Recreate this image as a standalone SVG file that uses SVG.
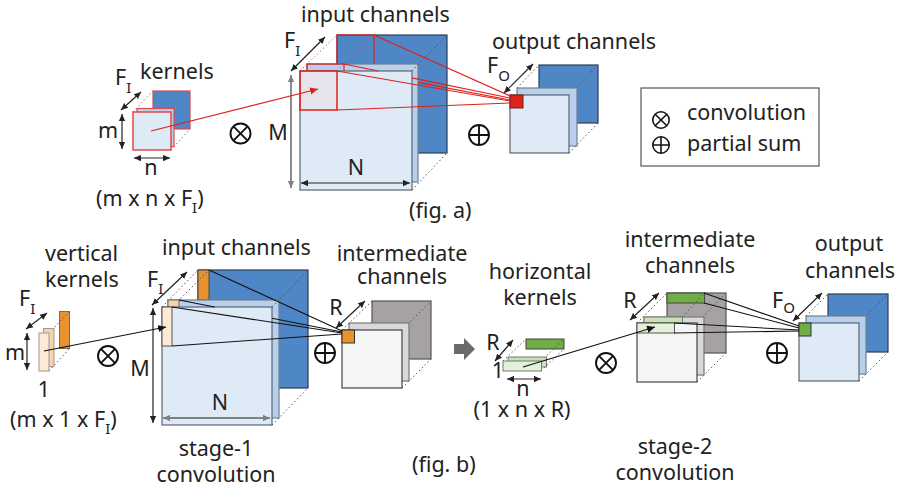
<svg xmlns="http://www.w3.org/2000/svg" width="900" height="491" viewBox="0 0 900 491">
<defs>
<style>
.t{font-family:"Noto Sans","Open Sans","DejaVu Sans",sans-serif;font-size:21.5px;fill:#222}
.m{text-anchor:middle}
.s{font-size:15px}
.dim{stroke:#222;stroke-width:1.2;fill:none;marker-start:url(#ak);marker-end:url(#ak)}
.dimg{stroke:#808080;stroke-width:1.8;fill:none;marker-start:url(#ag);marker-end:url(#ag)}
.dot{stroke:#555;stroke-width:1;stroke-dasharray:1.5 2.5;fill:none}
.dotr{stroke:#e05050;stroke-width:1;stroke-dasharray:1.5 2.5;fill:none}
.blue{fill:#4f86c6;stroke:#2b3f57;stroke-width:1.2}
.lb{fill:#b8d0eb;stroke:#6f7f90;stroke-width:1.2}
.fb{fill:#deebf7;stroke:#5a6470;stroke-width:1.2}
.gray{fill:#a6a2a2;stroke:#555;stroke-width:1.2}
.lg{fill:#d9d9d9;stroke:#777;stroke-width:1.2}
.wg{fill:#f5f5f5;stroke:#444;stroke-width:1.2}
.sym{fill:none;stroke:#111;stroke-width:1.9}
.rl{stroke:#e0201b;stroke-width:1.2;fill:none}
.bl{stroke:#111;stroke-width:1.1;fill:none}
</style>
<marker id="ak" viewBox="0 0 10 10" refX="10" refY="5" markerWidth="7" markerHeight="7" markerUnits="userSpaceOnUse" orient="auto-start-reverse"><path d="M0,0.5 L10,5 L0,9.5 z" fill="#222"/></marker>
<marker id="ag" viewBox="0 0 10 10" refX="10" refY="5" markerWidth="7" markerHeight="7" markerUnits="userSpaceOnUse" orient="auto-start-reverse"><path d="M0,0.5 L10,5 L0,9.5 z" fill="#808080"/></marker>
<marker id="ar" viewBox="0 0 10 10" refX="10" refY="5" markerWidth="8" markerHeight="8" markerUnits="userSpaceOnUse" orient="auto"><path d="M0,0.5 L10,5 L0,9.5 z" fill="#e0201b"/></marker>
<marker id="ab" viewBox="0 0 10 10" refX="10" refY="5" markerWidth="8" markerHeight="8" markerUnits="userSpaceOnUse" orient="auto"><path d="M0,0.5 L10,5 L0,9.5 z" fill="#111"/></marker>
<g id="otimes" class="sym"><circle r="10"/><path d="M-7.1,-7.1 L7.1,7.1 M-7.1,7.1 L7.1,-7.1"/></g>
<g id="oplus" class="sym"><circle r="10"/><path d="M-10,0 L10,0 M0,-10 L0,10"/></g>
</defs>
<rect width="900" height="491" fill="#fff"/>

<!-- ===== fig. a ===== -->
<g id="kernels-a">
<rect x="153" y="91" width="37" height="38" fill="#4f86c6" stroke="#e04a4a" stroke-width="1.2"/>
<path class="dotr" d="M133,112 L153,91 M171,150 L190,129"/>
<rect x="137" y="108.5" width="37" height="38" fill="#b8d0eb" stroke="#e04a4a" stroke-width="1.2"/>
<rect x="133" y="112" width="38" height="38" fill="#deebf7" stroke="#e04a4a" stroke-width="1.5"/>
<path class="dim" d="M121,110 L141,92"/>
<path class="dim" d="M122,114 L122,149"/>
<path class="dim" d="M134,158 L170,158"/>
<text class="t" x="140" y="79">kernels</text>
<text class="t" x="115" y="85">F<tspan class="s" dy="8">I</tspan></text>
<text class="t" x="98" y="138">m</text>
<text class="t m" x="151" y="175">n</text>
<text class="t" x="96" y="206">(m x n x F<tspan class="s" dy="7">I</tspan><tspan dy="-7">)</tspan></text>
</g>

<g id="conv-a"><use href="#otimes" x="240.5" y="133.5"/></g>

<g id="input-a">
<rect class="blue" x="337" y="35" width="110" height="118"/>
<rect x="337" y="35" width="37" height="39" fill="none" stroke="#e0201b" stroke-width="1.2"/>
<rect class="lb" x="307" y="64" width="111" height="118"/>
<rect x="307" y="64" width="37" height="39" fill="none" stroke="#e0201b" stroke-width="1.2"/>
<path class="dotr" d="M300,71 L337,35 M337,71 L374,35"/>
<rect class="fb" x="300" y="71" width="112" height="119"/>
<rect x="300" y="71" width="37" height="39" fill="#f4d6d6" fill-opacity="0.35" stroke="#e0201b" stroke-width="1.5"/>
<path class="dot" d="M412,71 L447,35 M412,190 L447,153"/>
<path class="dim" d="M291,71 L325,37"/>
<path class="dimg" d="M291,75 L291,188"/>
<path class="dim" d="M301,183 L410,183"/>
<text class="t" x="301" y="22">input channels</text>
<text class="t" x="284" y="48">F<tspan class="s" dy="8">I</tspan></text>
<text class="t m" x="278" y="140">M</text>
<text class="t m" x="356" y="175">N</text>
<text class="t" x="409" y="218">(fig. a)</text>
</g>

<g id="sum-a"><use href="#oplus" x="479" y="135"/></g>

<g id="output-a">
<rect class="blue" x="539" y="65" width="59" height="58"/>
<path class="dot" d="M517,88 L539,65 M569,95 L598,65 M569,153 L598,123"/>
<rect class="lb" x="517" y="88" width="60" height="58"/>
<rect class="fb" x="510" y="95" width="59" height="58"/>
<rect x="510" y="95" width="13" height="13" fill="#d9261c" stroke="#7a1a12" stroke-width="1"/>
<path class="dim" d="M504,93 L533,64"/>
<text class="t" x="492" y="49">output channels</text>
<text class="t" x="487" y="73">F<tspan class="s" dy="8">O</tspan></text>
</g>

<g id="legend">
<rect x="641" y="88" width="178" height="78" fill="#fff" stroke="#555" stroke-width="1.2"/>
<use href="#otimes" transform="translate(661,120) scale(0.82)"/>
<use href="#oplus" transform="translate(661,145) scale(0.82)"/>
<text class="t" x="687" y="120">convolution</text>
<text class="t" x="687" y="151">partial sum</text>
</g>

<!-- ===== fig. b ===== -->
<g id="vkernels-b">
<rect x="59.5" y="311.5" width="10" height="37" fill="#e8912d" stroke="#7a6a5a"/>
<path class="dot" d="M49,333 L69.5,311.5 M49,371 L69.5,348.5"/>
<rect x="43.5" y="328.5" width="10.5" height="38" fill="#f9d3a8" stroke="#9a9a9a"/>
<rect x="39" y="333" width="10" height="38" fill="#fde9d4" stroke="#9a9a9a"/>
<path class="dim" d="M26,329 L47,313"/>
<path class="dim" d="M27,333 L27,370"/>
<text class="t" x="45" y="261">vertical</text>
<text class="t" x="45" y="287">kernels</text>
<text class="t" x="19" y="306">F<tspan class="s" dy="8">I</tspan></text>
<text class="t" x="5" y="360">m</text>
<text class="t m" x="44" y="397">1</text>
<text class="t" x="10" y="427">(m x 1 x F<tspan class="s" dy="7">I</tspan><tspan dy="-7">)</tspan></text>
</g>

<g id="conv-b1"><use href="#otimes" x="108" y="356"/></g>

<g id="input-b">
<rect class="blue" x="198" y="270" width="110" height="118"/>
<rect x="198" y="270" width="11" height="30" fill="#e8912d" stroke="#444"/>
<path class="dot" d="M162,307 L198,270 M172,307 L209,270"/>
<rect class="lb" x="168" y="300" width="111" height="118"/>
<rect x="168" y="300" width="11" height="8" fill="#f9d3a8" stroke="#666"/>
<rect class="fb" x="162" y="307" width="110" height="118"/>
<rect x="162" y="307" width="10" height="39" fill="#fde9d4" stroke="#555"/>
<path class="dot" d="M272,307 L308,270 M272,425 L308,388"/>
<path class="dim" d="M152,305 L187,272"/>
<path class="dim" d="M153,308 L153,423"/>
<path class="dimg" d="M163,418 L270,418"/>
<text class="t" x="162" y="255">input channels</text>
<text class="t" x="147" y="287">F<tspan class="s" dy="7">I</tspan></text>
<text class="t m" x="140" y="376">M</text>
<text class="t m" x="220" y="410">N</text>
<text class="t m" x="216" y="456">stage-1</text>
<text class="t m" x="216" y="482">convolution</text>
</g>

<g id="sum-b1"><use href="#oplus" x="325" y="353"/></g>

<g id="inter-b1">
<rect class="gray" x="372" y="301" width="59" height="58"/>
<path class="dot" d="M342,330 L372,301 M402,330 L431,301 M402,388 L431,359"/>
<rect class="lg" x="349" y="323" width="60" height="58"/>
<rect class="wg" x="342" y="330" width="60" height="58"/>
<rect x="342" y="330" width="12.5" height="13" fill="#e8912d" stroke="#333"/>
<path class="dim" d="M336,328 L365,301"/>
<text class="t m" x="402" y="261">intermediate</text>
<text class="t m" x="402" y="284">channels</text>
<text class="t m" x="336" y="315">R</text>
</g>

<g id="step-arrow">
<path d="M454,344 L464,344 L464,338 L475,349 L464,360 L464,354 L454,354 z" fill="#6b6b6b"/>
</g>

<g id="hkernels-b">
<rect x="526" y="339" width="38" height="10" fill="#70ad47" stroke="#444"/>
<path class="dot" d="M503,361 L526,339 M541,361 L564,339 M541,371 L564,349"/>
<rect x="508" y="357" width="38.5" height="10" fill="#c9e2b4" stroke="#777"/>
<rect x="503" y="361" width="38.5" height="10" fill="#e4f1da" stroke="#777"/>
<path class="dim" d="M495,361 L513,340"/>
<path class="dim" d="M507,379 L541,379"/>
<text class="t m" x="540" y="279">horizontal</text>
<text class="t m" x="540" y="305">kernels</text>
<text class="t m" x="493" y="350">R</text>
<text class="t m" x="498" y="378">1</text>
<text class="t m" x="523" y="396">n</text>
<text class="t m" x="522" y="417">(1 x n x R)</text>
<text class="t" x="412" y="472">(fig. b)</text>
</g>

<g id="conv-b2"><use href="#otimes" x="606" y="363"/></g>

<g id="inter-b2">
<rect class="gray" x="667" y="293" width="59" height="60"/>
<rect x="667" y="293" width="37.5" height="10" fill="#70ad47" stroke="#444"/>
<path class="dot" d="M637,323 L667,293 M683,317 L704,293 M697,323 L726,293 M697,382 L726,353"/>
<rect class="lg" x="644" y="317" width="60" height="58"/>
<rect x="644" y="317" width="38.5" height="6.5" fill="#c9e2b4" stroke="#777"/>
<rect class="wg" x="637" y="323" width="60" height="59"/>
<rect x="637" y="323" width="37.5" height="10" fill="#e4f1da" stroke="#555"/>
<path class="dim" d="M630,320 L659,293"/>
<text class="t m" x="690" y="247">intermediate</text>
<text class="t m" x="690" y="273">channels</text>
<text class="t m" x="630" y="308">R</text>
<text class="t m" x="675" y="454">stage-2</text>
<text class="t m" x="675" y="480">convolution</text>
</g>

<g id="sum-b2"><use href="#oplus" x="777" y="353"/></g>

<g id="output-b">
<rect class="blue" x="828" y="294" width="60" height="58"/>
<path class="dot" d="M806,316 L828,294 M859,323 L888,294 M859,381 L888,352"/>
<rect class="lb" x="806" y="316" width="60" height="58"/>
<rect class="fb" x="799" y="323" width="60" height="58"/>
<rect x="799" y="323" width="12" height="13" fill="#70ad47" stroke="#333"/>
<path class="dim" d="M793,321 L822,293"/>
<text class="t m" x="849" y="251">output</text>
<text class="t m" x="850" y="278">channels</text>
<text class="t" x="772" y="308">F<tspan class="s" dy="5">O</tspan></text>
</g>

<g id="connectors">
<path class="rl" d="M374,35 L510,96"/>
<path class="rl" d="M344,64 L378.2,71 M412,77.9 L510,98"/>
<path class="rl" d="M418,82.4 L510,100"/>
<path class="rl" d="M337,71 L510,101"/>
<path class="rl" d="M337,110 L510,103"/>
<path class="rl" d="M151,131 L318,89" marker-end="url(#ar)"/>
<path class="bl" d="M209,270 L342,331"/>
<path class="bl" d="M179,300 L214.7,307 M272,318.3 L342,332"/>
<path class="bl" d="M172,307 L342,333"/>
<path class="bl" d="M172,346 L342,334"/>
<path class="bl" d="M44,351 L166,327" marker-end="url(#ab)"/>
<path class="bl" d="M704,293 L799,326"/>
<path class="bl" d="M704,303 L799,328"/>
<path class="bl" d="M674,323 L799,330"/>
<path class="bl" d="M674,333 L799,331"/>
<path class="bl" d="M523,367 L655,327" marker-end="url(#ab)"/>
</g>
</svg>
